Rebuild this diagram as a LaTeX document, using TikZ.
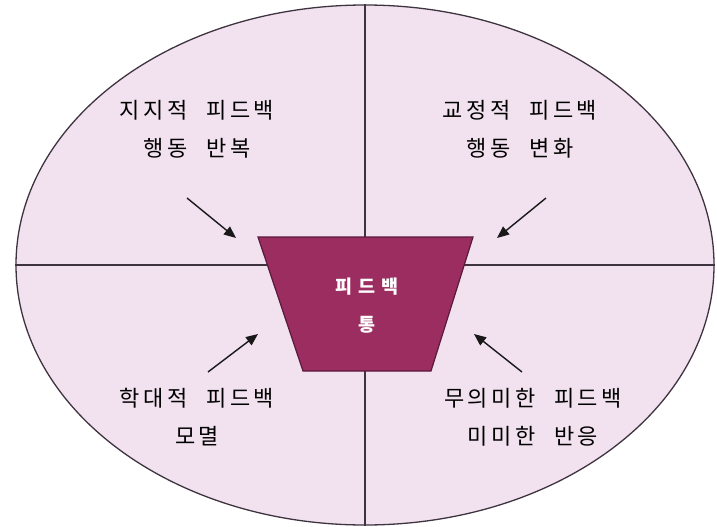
\documentclass[tikz,border=0pt]{standalone}
\usepackage{fontspec}
\newfontfamily\kr[LetterSpace=16,WordSpace=2.2]{Noto Sans CJK KR}
\newfontfamily\krb[LetterSpace=32]{Noto Sans CJK KR}
\usetikzlibrary{arrows.meta,shapes.geometric}
\definecolor{bgpink}{HTML}{F2E1EF}
\definecolor{funnel}{HTML}{9B2D60}
\definecolor{funneledge}{HTML}{5A1A3A}
\definecolor{linegray}{HTML}{3E3440}
\tikzset{
  lbl/.style={font=\kr\fontsize{22}{38}\selectfont, align=center, text=black, inner sep=0pt},
  ctr/.style={font=\krb\bfseries\fontsize{18.5}{38}\selectfont, align=center, text=white, inner sep=0pt},
  arr/.style={line width=1.4pt, draw=black!90, -{Triangle[length=12pt,width=10pt]}},
  divline/.style={line width=1.2pt, draw=linegray}
}
\begin{document}
\begin{tikzpicture}[x=1pt,y=-1pt]
\useasboundingbox (0,0) rectangle (717,527);
% ellipse
\node[draw=linegray, line width=1.3pt, fill=bgpink, ellipse, minimum width=698pt, minimum height=520pt, inner sep=0pt] (ell) at (365,265) {};
\draw[divline] (ell.north) -- (ell.south);
\draw[divline] (ell.west) -- (ell.east);
% funnel
\coordinate (tl) at (258,237);
\coordinate (tr) at (473,237);
\coordinate (br) at (431,371);
\coordinate (bl) at (303,371);
\draw[fill=funnel, draw=funneledge, line width=1.2pt] (tl) -- (tr) -- (br) -- (bl) -- cycle;
\node[ctr] (fb) at (367,306) {피드백\\통};
% labels
\node[lbl] (q1) at (197,129) {지지적 피드백\\행동 반복};
\node[lbl] (q2) at (520,129) {교정적 피드백\\행동 변화};
\node[lbl] (q3) at (197,417) {학대적 피드백\\모멸};
\node[lbl] (q4) at (533,417) {무의미한 피드백\\미미한 반응};
% arrows
\coordinate (a1s) at (187,198); \coordinate (a1e) at (236,238);
\coordinate (a2s) at (546,198); \coordinate (a2e) at (497,238);
\coordinate (a3s) at (208,372); \coordinate (a3e) at (258,334);
\coordinate (a4s) at (522,372); \coordinate (a4e) at (474,334);
\draw[arr] (a1s) -- (a1e);
\draw[arr] (a2s) -- (a2e);
\draw[arr] (a3s) -- (a3e);
\draw[arr] (a4s) -- (a4e);
\end{tikzpicture}
\end{document}
